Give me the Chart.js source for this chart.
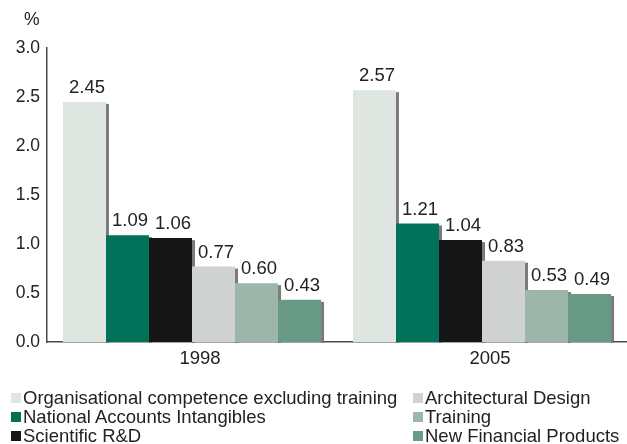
<!DOCTYPE html>
<html>
<head>
<meta charset="utf-8">
<script src="https://cdn.jsdelivr.net/npm/chart.js@4.4.1/dist/chart.umd.min.js"></script>
<style>
  html, body { margin: 0; padding: 0; background: #fff; }
  #wrap { position: relative; width: 627px; height: 444px; font-family: "Liberation Sans", Arial, sans-serif; color: #222; }
  #c { position: absolute; left: 0; top: 0; }
  #unit { position: absolute; left: 24px; top: 9px; font-size: 17.5px; line-height: 20px; }
  #legend { position: absolute; left: 11px; top: 388px; display: grid; grid-auto-flow: column;
            grid-template-rows: repeat(3, 19px); grid-template-columns: 402px auto; font-size: 18.5px; }
  .item { display: flex; align-items: center; white-space: nowrap; line-height: 19px; }
  .sw { display: inline-block; width: 10px; height: 10px; margin-right: 2px; }
</style>
</head>
<body>
<div id="wrap">
  <canvas id="c" width="627" height="444"></canvas>
  <div id="unit">%</div>
  <div id="legend"></div>
</div>
<script>
const categories = ['1998', '2005'];
const seriesNames = [
  'Organisational competence excluding training',
  'National Accounts Intangibles',
  'Scientific R&D',
  'Architectural Design',
  'Training',
  'New Financial Products'
];
const orgCompetence = [2.45, 2.57];
const nationalAccounts = [1.09, 1.21];
const scientificRD = [1.06, 1.04];
const architecturalDesign = [0.77, 0.83];
const training = [0.60, 0.53];
const newFinancialProducts = [0.43, 0.49];
const yTicks = [0, 0.5, 1.0, 1.5, 2.0, 2.5, 3.0];

const seriesValues = [orgCompetence, nationalAccounts, scientificRD, architecturalDesign, training, newFinancialProducts];
const colors = ['#dfe5e1', '#00725a', '#161616', '#d0d2d1', '#9cb7a9', '#689a86'];

const shadowPlugin = {
  id: 'barShadow',
  beforeDatasetsDraw(chart) {
    const ctx = chart.ctx;
    ctx.save();
    ctx.fillStyle = '#7a7a7a';
    chart.data.datasets.forEach((ds, i) => {
      chart.getDatasetMeta(i).data.forEach(el => {
        const p = el.getProps(['x', 'y', 'base', 'width'], true);
        ctx.fillRect(p.x + p.width / 2, p.y + 2, 3, p.base - p.y - 1);
      });
    });
    ctx.restore();
  }
};

const valueLabelPlugin = {
  id: 'valueLabels',
  afterDatasetsDraw(chart) {
    const ctx = chart.ctx;
    ctx.save();
    ctx.fillStyle = '#222';
    ctx.font = '18.5px "Liberation Sans", Arial, sans-serif';
    ctx.textAlign = 'center';
    ctx.textBaseline = 'middle';
    chart.data.datasets.forEach((ds, i) => {
      chart.getDatasetMeta(i).data.forEach((el, j) => {
        const p = el.getProps(['x', 'y'], true);
        ctx.fillText(ds.data[j].toFixed(2), p.x + 2.5, p.y - 14);
      });
    });
    ctx.restore();
  }
};

const chart = new Chart(document.getElementById('c'), {
  type: 'bar',
  data: {
    labels: categories,
    datasets: seriesNames.map((n, i) => ({
      label: n,
      data: seriesValues[i],
      backgroundColor: colors[i],
      borderWidth: 0,
      barPercentage: 1.0,
      categoryPercentage: 0.89
    }))
  },
  options: {
    responsive: false,
    devicePixelRatio: 1,
    animation: false,
    layout: { padding: { top: 48, left: 0, right: 0, bottom: 72 } },
    plugins: { legend: { display: false }, tooltip: { enabled: false } },
    scales: {
      x: {
        grid: { display: false, drawTicks: false },
        border: { display: true, color: '#4a4a4a', width: 1.5 },
        ticks: { color: '#222', font: { family: '"Liberation Sans", Arial, sans-serif', size: 18.5 }, padding: 6, labelOffset: 8, maxRotation: 0 },
        afterFit(s) { s.height = 30; }
      },
      y: {
        min: 0, max: 3,
        grid: { display: false, drawTicks: false },
        border: { display: true, color: '#4a4a4a', width: 1.5 },
        afterBuildTicks(s) { s.ticks = yTicks.map(v => ({ value: v })); },
        ticks: { color: '#222', font: { family: '"Liberation Sans", Arial, sans-serif', size: 17.5 }, padding: 7,
                 callback: v => Number(v).toFixed(1) },
        afterFit(s) { s.width = 47; }
      }
    }
  },
  plugins: [shadowPlugin, valueLabelPlugin]
});

const legend = document.getElementById('legend');
chart.data.datasets.forEach(ds => {
  const item = document.createElement('div');
  item.className = 'item';
  const sw = document.createElement('span');
  sw.className = 'sw';
  sw.style.background = ds.backgroundColor;
  const tx = document.createElement('span');
  tx.textContent = ds.label;
  item.appendChild(sw);
  item.appendChild(tx);
  legend.appendChild(item);
});
</script>
</body>
</html>
